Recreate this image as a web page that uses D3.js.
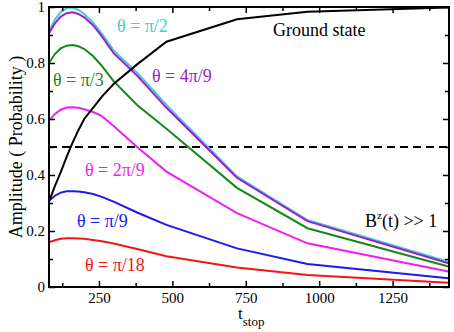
<!DOCTYPE html>
<html>
<head>
<meta charset="utf-8">
<style>
  body { margin: 0; background: #fff; }
  svg { display: block; }
  svg text { font-family: "Liberation Serif", "Times New Roman", Times, "Noto Serif", "DejaVu Serif", serif; }
</style>
<script src="https://d3js.org/d3.v7.min.js"></script>
</head>
<body>
<script>
  // t_stop values where the curves were sampled
  var tStop      = [80, 100, 120, 140, 160, 180, 200, 230, 260, 300, 380, 480, 720, 960, 1440];
  var groundState = [0.305, 0.36, 0.41, 0.465, 0.515, 0.56, 0.60, 0.64, 0.68, 0.725, 0.795, 0.876, 0.956, 0.983, 0.998];
  var thetaPi2   = [0.912, 0.955, 0.982, 0.996, 0.998, 0.99, 0.975, 0.945, 0.905, 0.845, 0.765, 0.65, 0.395, 0.239, 0.09];
  var theta4Pi9  = [0.906, 0.942, 0.966, 0.978, 0.981, 0.975, 0.963, 0.935, 0.895, 0.835, 0.755, 0.64, 0.39, 0.235, 0.085];
  var thetaPi3   = [0.80, 0.832, 0.852, 0.862, 0.864, 0.86, 0.85, 0.825, 0.79, 0.735, 0.65, 0.565, 0.354, 0.21, 0.073];
  var theta2Pi9  = [0.594, 0.618, 0.633, 0.641, 0.642, 0.64, 0.635, 0.625, 0.61, 0.575, 0.50, 0.412, 0.264, 0.156, 0.055];
  var thetaPi9   = [0.308, 0.326, 0.337, 0.342, 0.342, 0.341, 0.338, 0.332, 0.322, 0.305, 0.266, 0.222, 0.138, 0.082, 0.031];
  var thetaPi18  = [0.16, 0.167, 0.172, 0.174, 0.174, 0.173, 0.172, 0.168, 0.163, 0.155, 0.136, 0.11, 0.07, 0.043, 0.015];

  var xTicks = [250, 500, 750, 1000, 1250];
  var yTicks = [0, 0.2, 0.4, 0.6, 0.8, 1];
  var yTickLabels = ["0", "0.2", "0.4", "0.6", "0.8", "1"];

  var series = [
    {name: "θ = π/2",   values: thetaPi2,  color: "#40d0d0", lx: 117, ly: 32},
    {name: "θ = 4π/9",  values: theta4Pi9, color: "#9a1fcf", lx: 152, ly: 82},
    {name: "θ = π/3",   values: thetaPi3,  color: "#138a13", lx: 53,  ly: 86},
    {name: "θ = 2π/9",  values: theta2Pi9, color: "#f01ef0", lx: 85,  ly: 176},
    {name: "θ = π/9",   values: thetaPi9,  color: "#1a1aef", lx: 77,  ly: 227},
    {name: "θ = π/18",  values: thetaPi18, color: "#f51515", lx: 85,  ly: 271},
    {name: "Ground state", values: groundState, color: "#000", lx: 273, ly: 36}
  ];

  var W = 454, H = 332;
  var margin = {top: 7, right: 5, bottom: 45, left: 49};
  var w = W - margin.left - margin.right;
  var h = H - margin.top - margin.bottom;

  var svg = d3.select("body").append("svg")
    .attr("width", W).attr("height", H);
  var g = svg.append("g")
    .attr("transform", "translate(" + margin.left + "," + margin.top + ")");

  var x = d3.scaleLinear().domain([80, 1442]).range([0, w]);
  var y = d3.scaleLinear().domain([0, 1]).range([h, 0]);

  g.append("clipPath").attr("id", "clip")
    .append("rect").attr("width", w).attr("height", h);

  // dashed line at 0.5
  g.append("line")
    .attr("x1", 0).attr("x2", w)
    .attr("y1", y(0.5)).attr("y2", y(0.5))
    .attr("stroke", "#000").attr("stroke-width", 2)
    .attr("stroke-dasharray", "8,5");

  var line = d3.line()
    .x(function (d, i) { return x(tStop[i]); })
    .y(function (d) { return y(d); });

  g.selectAll(".curve")
    .data(series)
    .enter()
    .append("path")
    .attr("class", "curve")
    .attr("clip-path", "url(#clip)")
    .attr("fill", "none")
    .attr("stroke", function (d) { return d.color; })
    .attr("stroke-width", 2)
    .attr("d", function (d) { return line(d.values); });

  // axes: ticks pointing inward on all four sides
  var minorX = d3.range(125, 1442, 125).filter(function (v) { return v % 250 !== 0; });
  var minorY = [0.1, 0.3, 0.5, 0.7, 0.9];

  function tickStyle(sel) {
    sel.attr("font-family", null);
    sel.select(".domain").remove();
    sel.selectAll("line").attr("stroke", "#000").attr("stroke-width", 1.5);
    sel.selectAll("text").attr("font-size", 15).attr("fill", "#000");
  }

  g.append("g").attr("transform", "translate(0," + h + ")")
    .call(d3.axisBottom(x).tickValues(xTicks).tickSize(-6).tickPadding(5).tickFormat(d3.format("d")))
    .call(tickStyle);
  g.append("g").attr("transform", "translate(0," + h + ")")
    .call(d3.axisBottom(x).tickValues(minorX).tickSize(-4).tickFormat(""))
    .call(tickStyle);
  g.append("g")
    .call(d3.axisTop(x).tickValues(xTicks).tickSize(-6).tickFormat(""))
    .call(tickStyle);
  g.append("g")
    .call(d3.axisTop(x).tickValues(minorX).tickSize(-4).tickFormat(""))
    .call(tickStyle);

  g.append("g")
    .call(d3.axisLeft(y).tickValues(yTicks).tickSize(-6).tickPadding(4)
      .tickFormat(function (d, i) { return yTickLabels[i]; }))
    .call(tickStyle);
  g.append("g")
    .call(d3.axisLeft(y).tickValues(minorY).tickSize(-4).tickFormat(""))
    .call(tickStyle);
  g.append("g").attr("transform", "translate(" + w + ",0)")
    .call(d3.axisRight(y).tickValues(yTicks).tickSize(-6).tickFormat(""))
    .call(tickStyle);
  g.append("g").attr("transform", "translate(" + w + ",0)")
    .call(d3.axisRight(y).tickValues(minorY).tickSize(-4).tickFormat(""))
    .call(tickStyle);

  // frame
  g.append("rect")
    .attr("width", w).attr("height", h)
    .attr("fill", "none").attr("stroke", "#000").attr("stroke-width", 2);

  // curve labels
  svg.selectAll(".lbl")
    .data(series)
    .enter()
    .append("text")
    .attr("class", "lbl")
    .attr("x", function (d) { return d.lx; })
    .attr("y", function (d) { return d.ly; })
    .attr("font-size", 18)
    .attr("fill", function (d) { return d.color; })
    .text(function (d) { return d.name; });

  var bz = svg.append("text")
    .attr("x", 365).attr("y", 227)
    .attr("font-size", 18);
  bz.append("tspan").text("B");
  bz.append("tspan").attr("dy", -8).attr("font-size", 11).text("z");
  bz.append("tspan").attr("dy", 8).text("(t) >> 1");

  // axis titles
  svg.append("text")
    .attr("transform", "translate(22," + (margin.top + h / 2) + ") rotate(-90)")
    .attr("text-anchor", "middle")
    .attr("font-size", 18)
    .text("Amplitude ( Probability )");

  var xt = svg.append("text")
    .attr("x", 238).attr("y", 319)
    .attr("font-size", 17);
  xt.append("tspan").text("t");
  xt.append("tspan").attr("dy", 7).attr("font-size", 13).text("stop");
</script>
</body>
</html>
